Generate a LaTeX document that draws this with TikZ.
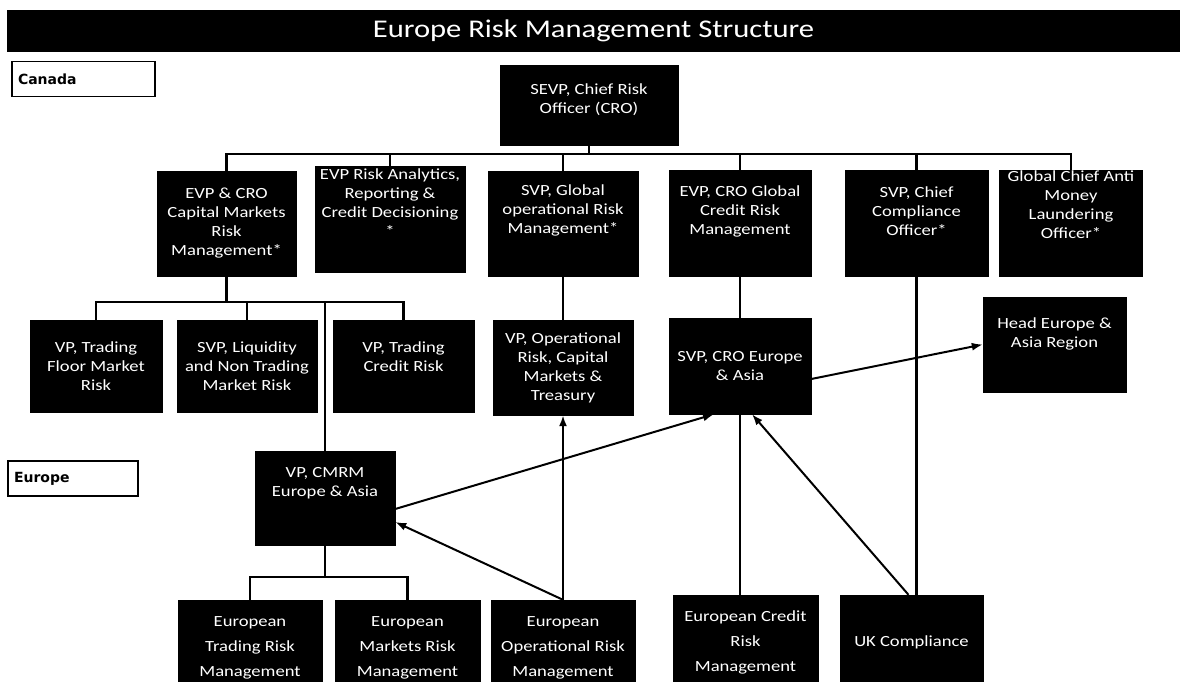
\documentclass[tikz,border=0pt]{standalone}
\usepackage{fontspec}
\setmainfont{Carlito}[FakeStretch=1.2]
\newfontfamily\regionfont{DejaVu Sans}
\usetikzlibrary{arrows.meta,calc}

\begin{document}
\begin{tikzpicture}[
          x=1pt, y=-1pt,
          box/.style={draw=black, fill=black, text=white, align=center, inner sep=1pt,
                      font=\fontsize{15.5}{19}\selectfont},
          lowbox/.style={box, font=\fontsize{15.5}{25}\selectfont},
          lift/.style={text depth=#1},
          region/.style={draw=black, line width=1.4pt, text=black, align=left, inner xsep=6pt,
                         text width=#1, minimum height=35, font=\regionfont\bfseries\fontsize{14}{16}\selectfont},
          link/.style={line width=2.4pt},
          arr/.style={line width=2pt, -{Latex[length=11pt,width=8pt]}}
      ]
        \clip (0,0) rectangle (1180,682);
        \fill[white] (0,0) rectangle (1180,682);
        \node[fill=black, text=white, minimum width=1173, minimum height=42, inner sep=0pt,
              font=\fontsize{25.5}{30}\selectfont] (title) at (593.5,31) {Europe Risk Management Structure};
        \node[region=131pt] (canada) at (83.5,79) {Canada};
        \node[region=118pt] (europe) at (73,478.5) {Europe};
        \node[box, minimum width=178, minimum height=80, lift=14pt] (cro) at (589,105.5) {SEVP, Chief Risk\\Officer (CRO)};
        \node[box, minimum width=139, minimum height=105] (cmr) at (226.5,223.5) {EVP \& CRO\\Capital Markets\\Risk\\Management*};
        \node[box, minimum width=150, minimum height=106, lift=32pt] (rac) at (390,219) {EVP Risk Analytics,\\Reporting \&\\Credit Decisioning\\*};
        \node[box, minimum width=150, minimum height=105, lift=28pt] (gor) at (563,223.5) {SVP, Global\\operational Risk\\Management*};
        \node[box, minimum width=142, minimum height=106, lift=26pt] (gcr) at (740,223) {EVP, CRO Global\\Credit Risk\\Management};
        \node[box, minimum width=143, minimum height=106, lift=24pt] (cco) at (916.5,223) {SVP, Chief\\Compliance\\Officer*};
        \node[box, minimum width=143, minimum height=106, lift=36pt] (aml) at (1071,223) {Global Chief Anti\\Money\\Laundering\\Officer*};
        \node[box, minimum width=132, minimum height=92] (tfm) at (96,366) {VP, Trading\\Floor Market\\Risk};
        \node[box, minimum width=140, minimum height=92] (liq) at (247,366) {SVP, Liquidity\\and Non Trading\\Market Risk};
        \node[box, minimum width=141, minimum height=92, lift=18pt] (tcr) at (403.5,366) {VP, Trading\\Credit Risk};
        \node[box, minimum width=140, minimum height=95] (opr) at (563,367.5) {VP, Operational\\Risk, Capital\\Markets \&\\Treasury};
        \node[box, minimum width=142, minimum height=96] (cre) at (740,366) {SVP, CRO Europe\\\& Asia};
        \node[box, minimum width=143, minimum height=95, lift=24pt] (head) at (1054.5,344.5) {Head Europe \&\\Asia Region};
        \node[box, minimum width=140, minimum height=94, lift=32pt] (cmrm) at (325,498) {VP, CMRM\\Europe \& Asia};
        \node[lowbox, minimum width=144, minimum height=95] (etr) at (250,647.5) {European\\Trading Risk\\Management};
        \node[lowbox, minimum width=145, minimum height=95] (emr) at (407.5,647.5) {European\\Markets Risk\\Management};
        \node[lowbox, minimum width=144, minimum height=95] (eop) at (563,647.5) {European\\Operational Risk\\Management};
        \node[lowbox, minimum width=145, minimum height=95] (ecr) at (745.5,642.5) {European Credit\\Risk\\Management};
        \node[lowbox, minimum width=143, minimum height=95] (ukc) at (911.5,642.5) {UK Compliance};

        \coordinate (topbus) at ($(cro.south)+(0,8)$);
        \draw[link] (cro.south) -- (topbus);
        \foreach \n in {cmr,rac,gor,gcr,cco,aml}
          \draw[link] (topbus) -| (\n.north);
        \coordinate (cmbus) at ($(cmr.south)+(0,26)$);
        \foreach \n in {tfm,liq,tcr,cmrm}
          \draw[link] (cmr.south) -- (cmbus) -| (\n.north);
        \coordinate (eubus) at ($(cmrm.south)+(0,32)$);
        \foreach \n in {etr,emr}
          \draw[link] (cmrm.south) -- (eubus) -| (\n.north);
        \draw[link] (gor.south) -- (opr.north);
        \draw[link] (gcr.south) -- (cre.north);
        \draw[link] (cco.south) -- (cco.south |- ukc.north);
        \draw[link] (ecr.north -| cre.south) -- (cre.south);

        \draw[arr] (eop.north) -- (opr.south);
        \draw[arr] (eop.north) -- ($(cmrm.east)+(0,24)$);
        \draw[arr] ($(cmrm.east)+(0,11)$) -- ($(cre.south)+(-26,0)$);
        \draw[arr] ($(ukc.north)+(-3,0)$) -- ($(cre.south)+(12,0)$);
        \draw[arr] ($(cre.east)+(0,13)$) -- (head.west);
      \end{tikzpicture}
\end{document}
